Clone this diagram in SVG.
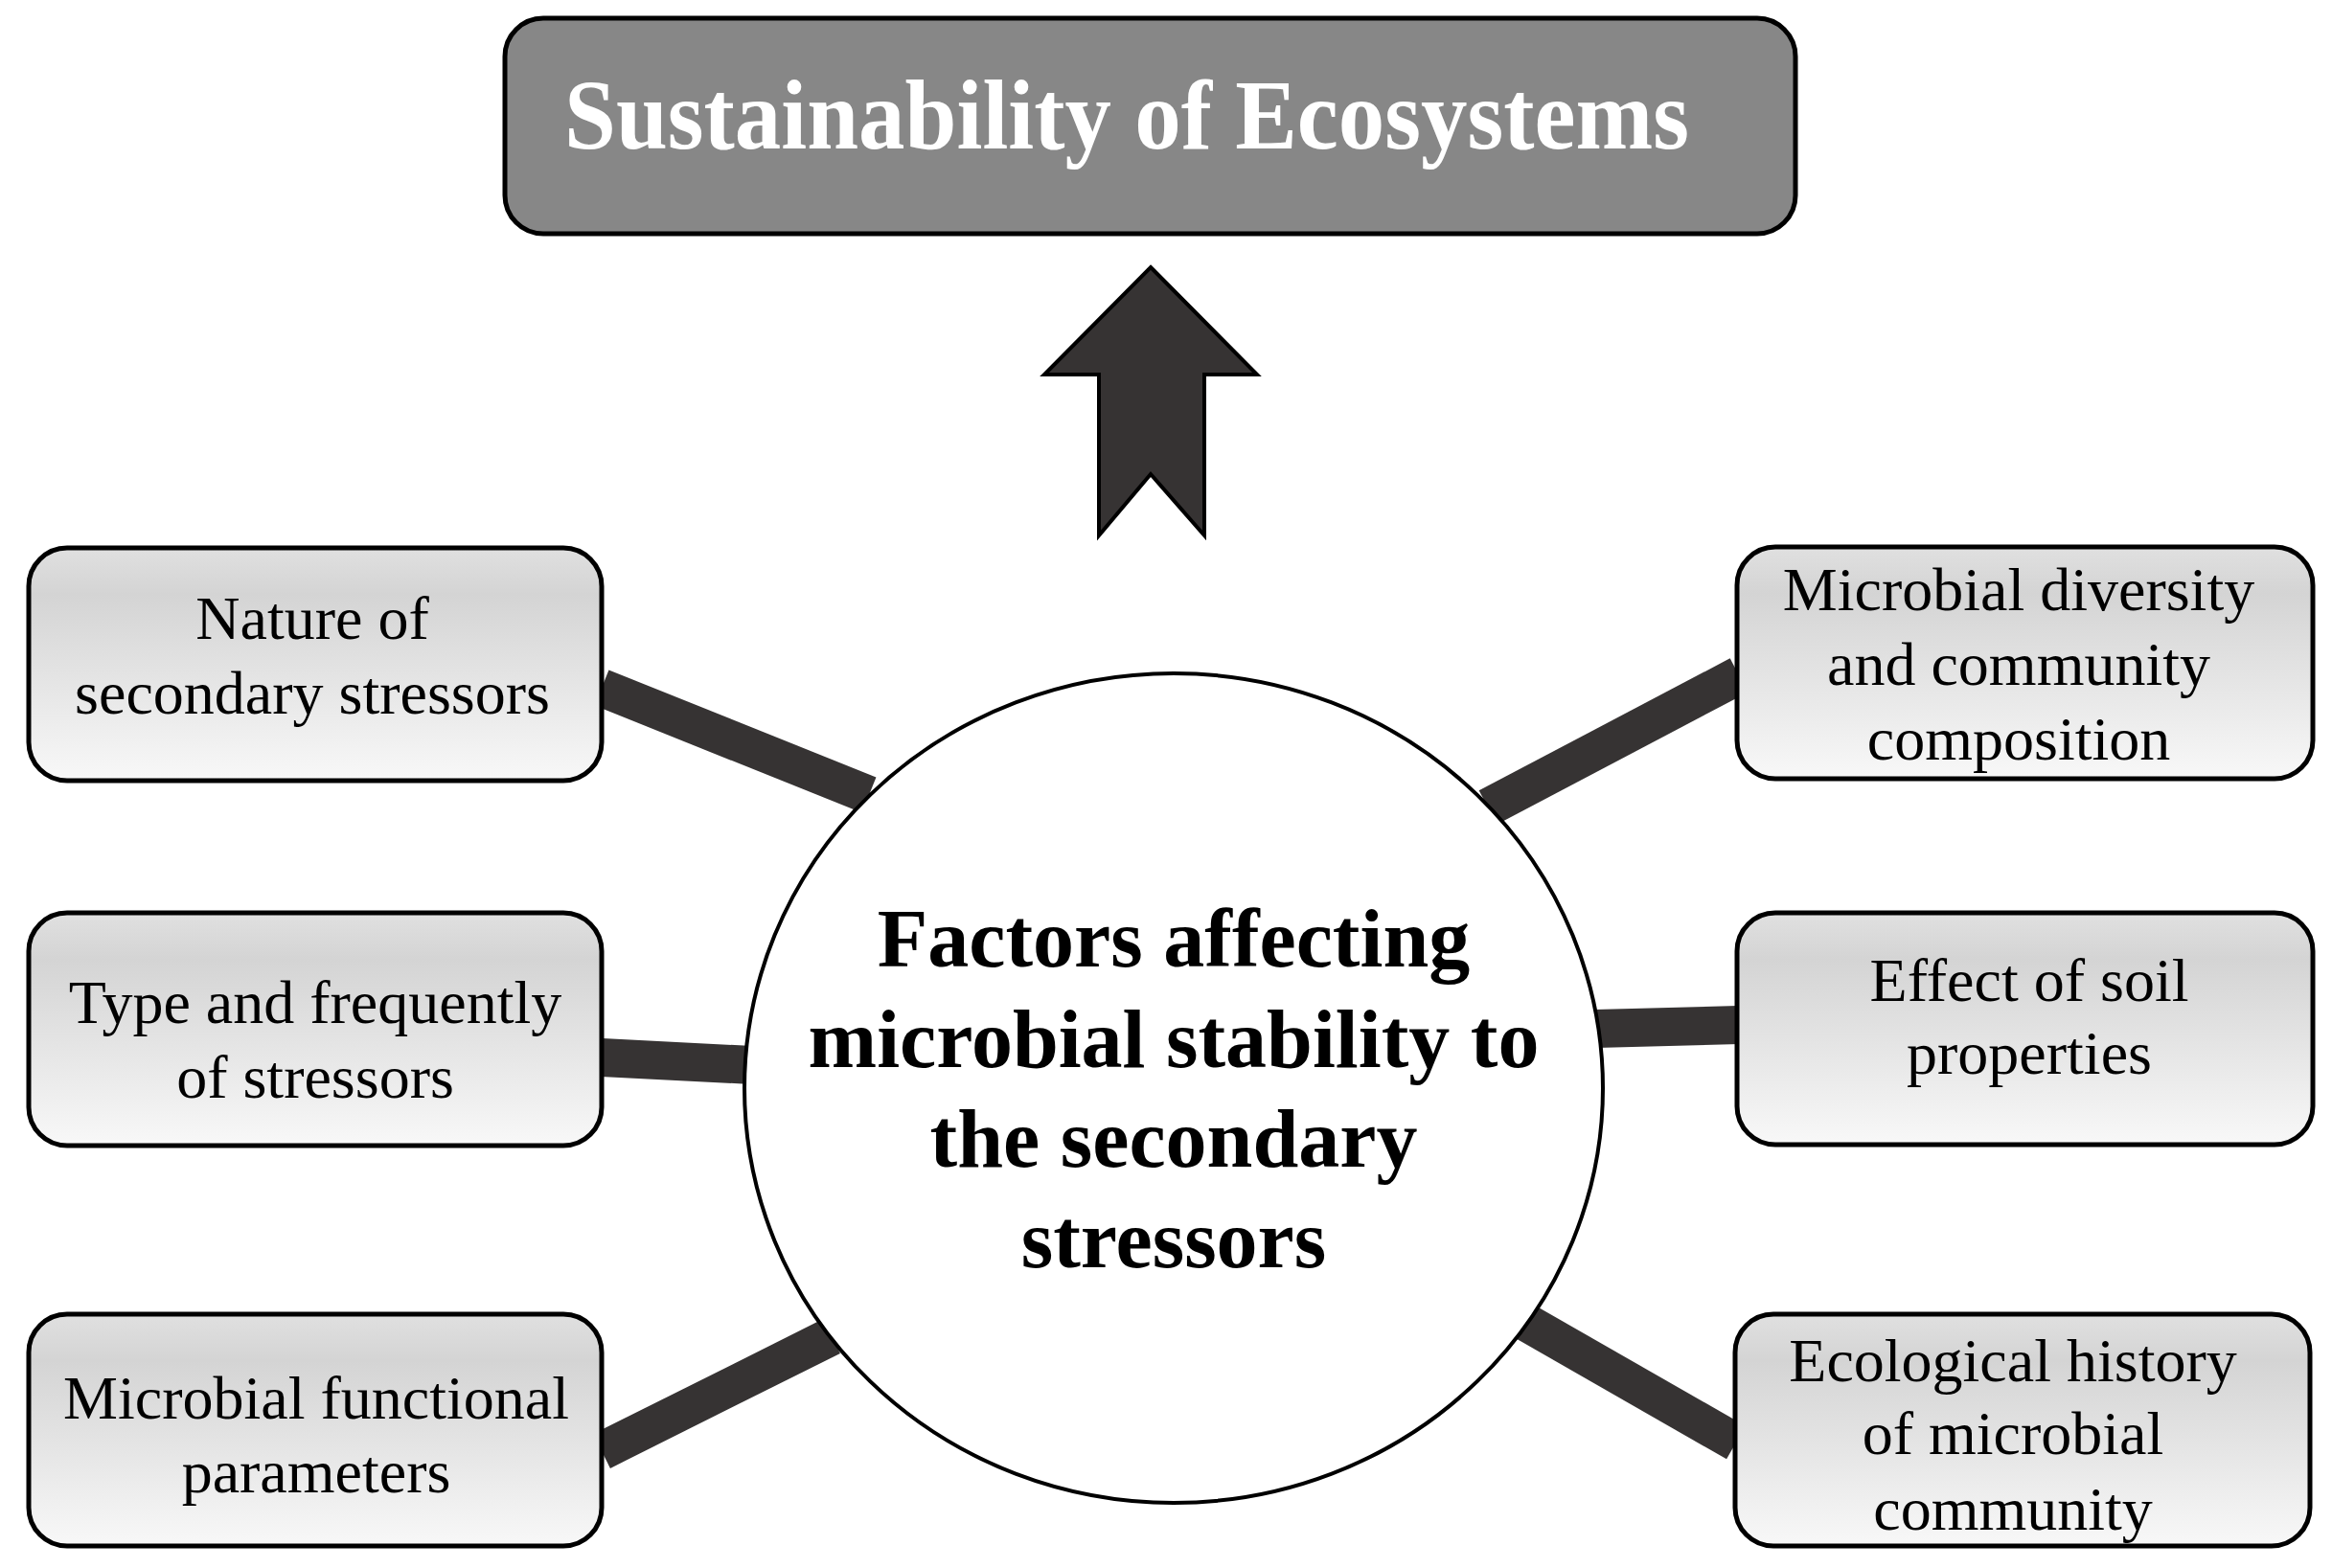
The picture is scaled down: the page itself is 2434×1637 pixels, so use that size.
<svg xmlns="http://www.w3.org/2000/svg" width="2434" height="1637" viewBox="0 0 2434 1637">
<defs>
<linearGradient id="boxGrad" x1="0" y1="0" x2="0" y2="1">
<stop offset="0" stop-color="#e0e0e0"/>
<stop offset="0.2" stop-color="#d4d4d4"/>
<stop offset="1" stop-color="#f8f8f8"/>
</linearGradient>
<style>
.box{fill:url(#boxGrad);stroke:#000;stroke-width:5}
.lbl{font-family:"Liberation Serif","Times New Roman",serif;font-size:64px;fill:#000;text-anchor:middle}
.bar{stroke:#363333;stroke-width:40;stroke-linecap:butt;fill:none}
.ctr{font-family:"Liberation Serif","Times New Roman",serif;font-size:86px;font-weight:bold;fill:#000;text-anchor:middle}
</style>
</defs>
<rect width="2434" height="1637" fill="#fff"/>

<g id="title">
<rect x="527" y="19" width="1347" height="225" rx="40" ry="40" fill="#878787" stroke="#000" stroke-width="5"/>
<text x="589" y="155" font-family="Liberation Serif,'Times New Roman',serif" font-size="104" font-weight="bold" fill="#fff" textLength="1174" lengthAdjust="spacingAndGlyphs">Sustainability of Ecosystems</text>
</g>

<g id="arrow">
<polygon points="1201,279 1312,391 1257,391 1257,559 1201,495 1147,559 1147,391 1090,391" fill="#363333" stroke="#000" stroke-width="4" stroke-linejoin="miter"/>
</g>

<g id="connectors">
<line class="bar" x1="628" y1="718" x2="907" y2="830"/>
<line class="bar" x1="628" y1="1104" x2="785" y2="1112"/>
<line class="bar" x1="628" y1="1515" x2="868" y2="1395"/>
<line class="bar" x1="1553" y1="843" x2="1815" y2="705"/>
<line class="bar" x1="1665" y1="1074" x2="1815" y2="1070"/>
<line class="bar" x1="1585" y1="1376" x2="1812" y2="1506"/>
</g>

<g id="center">
<ellipse cx="1225" cy="1136" rx="448" ry="433" fill="#fff" stroke="#000" stroke-width="4"/>
<text class="ctr" x="1225" y="1009">Factors affecting</text>
<text class="ctr" x="1225" y="1114">microbial stability to</text>
<text class="ctr" x="1225" y="1218">the secondary</text>
<text class="ctr" x="1225" y="1323">stressors</text>
</g>

<g id="nature">
<rect class="box" x="30" y="572" width="598" height="243" rx="40" ry="40"/>
<text class="lbl" x="326" y="667">Nature of</text>
<text class="lbl" x="326" y="745">secondary stressors</text>
</g>

<g id="type">
<rect class="box" x="30" y="953" width="598" height="243" rx="40" ry="40"/>
<text class="lbl" x="329" y="1068">Type and frequently</text>
<text class="lbl" x="329" y="1146">of stressors</text>
</g>

<g id="functional">
<rect class="box" x="30" y="1372" width="598" height="242" rx="40" ry="40"/>
<text class="lbl" x="330" y="1481">Microbial functional</text>
<text class="lbl" x="330" y="1558">parameters</text>
</g>

<g id="diversity">
<rect class="box" x="1813" y="571" width="601" height="242" rx="40" ry="40"/>
<text class="lbl" x="2107" y="637">Microbial diversity</text>
<text class="lbl" x="2107" y="715">and community</text>
<text class="lbl" x="2107" y="793">composition</text>
</g>

<g id="soil">
<rect class="box" x="1813" y="953" width="601" height="242" rx="40" ry="40"/>
<text class="lbl" x="2118" y="1045">Effect of soil</text>
<text class="lbl" x="2118" y="1121">properties</text>
</g>

<g id="history">
<rect class="box" x="1811" y="1372" width="600" height="242" rx="40" ry="40"/>
<text class="lbl" x="2101" y="1442">Ecological history</text>
<text class="lbl" x="2101" y="1518">of microbial</text>
<text class="lbl" x="2101" y="1597">community</text>
</g>
</svg>
